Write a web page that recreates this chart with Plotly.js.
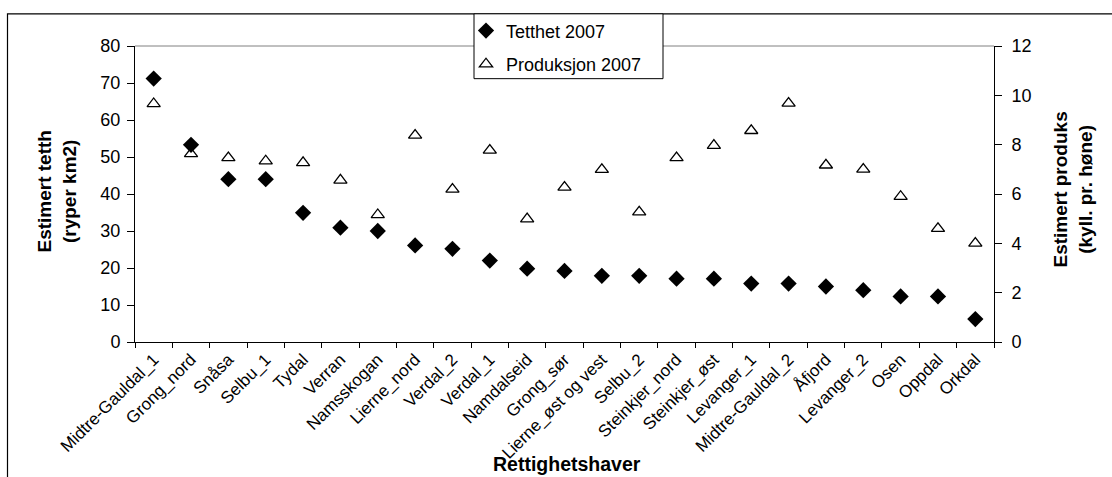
<!DOCTYPE html>
<html>
<head>
<meta charset="utf-8">
<script src="https://cdn.plot.ly/plotly-3.0.1.min.js"></script>
<style>
html,body{margin:0;padding:0;background:#fff;}
#chart{width:1112px;height:477px;}
</style>
</head>
<body>
<div id="chart"></div>
<script>
const categories = ["Midtre-Gauldal_1","Grong_nord","Snåsa","Selbu_1","Tydal","Verran","Namsskogan","Lierne_nord","Verdal_2","Verdal_1","Namdalseid","Grong_sør","Lierne_øst og vest","Selbu_2","Steinkjer_nord","Steinkjer_øst","Levanger_1","Midtre-Gauldal_2","Åfjord","Levanger_2","Osen","Oppdal","Orkdal"];
const tetthet2007 = [71.2,53.3,44.0,44.0,34.9,30.9,30.0,26.1,25.2,22.0,19.8,19.2,17.9,17.9,17.1,17.1,15.8,15.8,15.0,14.0,12.3,12.3,6.2];
const produksjon2007 = [9.66,7.63,7.47,7.34,7.27,6.56,5.16,8.38,6.19,7.77,4.99,6.27,6.99,5.27,7.47,7.97,8.57,9.68,7.17,7.0,5.9,4.6,4.0];
const leftTicks = [0,10,20,30,40,50,60,70,80];
const rightTicks = [0,2,4,6,8,10,12];

const FONT = "Liberation Sans, Arial, sans-serif";

const traces = [
  {x: categories, y: tetthet2007, name: "Tetthet 2007", type: "scatter", mode: "markers",
   legendgroup: "a",
   marker: {symbol: "diamond", size: 12.5, color: "#000000", line: {width: 0}}, yaxis: "y"},
  {x: categories, y: produksjon2007, name: "Produksjon 2007", type: "scatter", mode: "markers",
   legendgroup: "b",
   marker: {symbol: "triangle-up-open", size: 11.5, color: "#000000", line: {width: 1.3, color: "#000000"}}, yaxis: "y2"}
];

const pl = 135, pr = 994, pt = 43, pb = 342;
const W = 1112, H = 477;
const px = v => (v - pl) / (pr - pl);
const py = v => (pb - v) / (pb - pt);

const layout = {
  width: W, height: H,
  margin: {l: pl, r: W - pr, t: pt, b: H - pb},
  paper_bgcolor: "#ffffff", plot_bgcolor: "#ffffff",
  font: {family: FONT, size: 17, color: "#000"},
  showlegend: true,
  legend: {x: px(466), y: py(9), xanchor: "left", yanchor: "top",
           bgcolor: "rgba(0,0,0,0)", borderwidth: 0,
           font: {family: FONT, size: 18, color: "#000"},
           traceorder: "grouped", tracegroupgap: 7, itemwidth: 30},
  xaxis: {type: "category", range: [-0.5, categories.length - 0.5],
          tickangle: -45, tickson: "boundaries", ticks: "outside", ticklen: 5, tickcolor: "#000",
          showline: true, linecolor: "#000", linewidth: 1, showgrid: false, zeroline: false,
          tickfont: {family: FONT, size: 17, color: "#000"},
          automargin: false, fixedrange: true},
  yaxis: {range: [0, 80], tickvals: leftTicks, ticks: "outside", ticklen: 7, tickcolor: "#000",
          showline: true, linecolor: "#000", linewidth: 1, showgrid: false, zeroline: false,
          tickfont: {family: FONT, size: 18, color: "#000"}, automargin: false, ticklabelstandoff: 3},
  yaxis2: {range: [0, 12], tickvals: rightTicks, overlaying: "y", side: "right",
           ticks: "outside", ticklen: 7, tickcolor: "#000",
           showline: true, linecolor: "#000", linewidth: 1, showgrid: false, zeroline: false,
           tickfont: {family: FONT, size: 18, color: "#000"}, automargin: false, ticklabelstandoff: 6},
  yaxis3: {range: [0, 80], tickvals: leftTicks, overlaying: "y", side: "left",
           ticks: "inside", ticklen: 5, tickcolor: "#000", showticklabels: false,
           showline: false, showgrid: false, zeroline: false, automargin: false},
  yaxis4: {range: [0, 12], tickvals: rightTicks, overlaying: "y", side: "right",
           ticks: "inside", ticklen: 4, tickcolor: "#000", showticklabels: false,
           showline: false, showgrid: false, zeroline: false, automargin: false},
  annotations: [
    {xref: "paper", yref: "paper", x: px(57), y: py(190), text: "<b>Estimert tetth<br>(ryper km2)</b>",
     showarrow: false, textangle: -90, font: {family: FONT, size: 19, color: "#000"}, xanchor: "center", yanchor: "middle"},
    {xref: "paper", yref: "paper", x: px(1073), y: py(188), text: "<b>Estimert produks<br>(kyll. pr. høne)</b>",
     showarrow: false, textangle: -90, font: {family: FONT, size: 19, color: "#000"}, xanchor: "center", yanchor: "middle"},
    {xref: "paper", yref: "paper", x: px(567), y: py(465), text: "<b>Rettighetshaver</b>",
     showarrow: false, font: {family: FONT, size: 19.5, color: "#000"}, xanchor: "center", yanchor: "middle"}
  ],
  shapes: [
    {type: "path", xref: "paper", yref: "paper",
     path: `M ${px(7.5)},${py(480)} L ${px(7.5)},${py(10.5)} L ${px(1120)},${py(10.5)}`,
     line: {color: "#000", width: 1.2}},
    {type: "line", xref: "paper", yref: "paper", x0: 0, x1: 1, y0: 1, y1: 1,
     line: {color: "#808080", width: 1}},
    {type: "rect", xref: "paper", yref: "paper", x0: px(474), x1: px(663), y0: py(76), y1: py(10.5),
     fillcolor: "#ffffff", line: {color: "#000", width: 1}, layer: "above"}
  ]
};

Plotly.newPlot("chart", traces, layout, {staticPlot: true, displayModeBar: false});
</script>
</body>
</html>
